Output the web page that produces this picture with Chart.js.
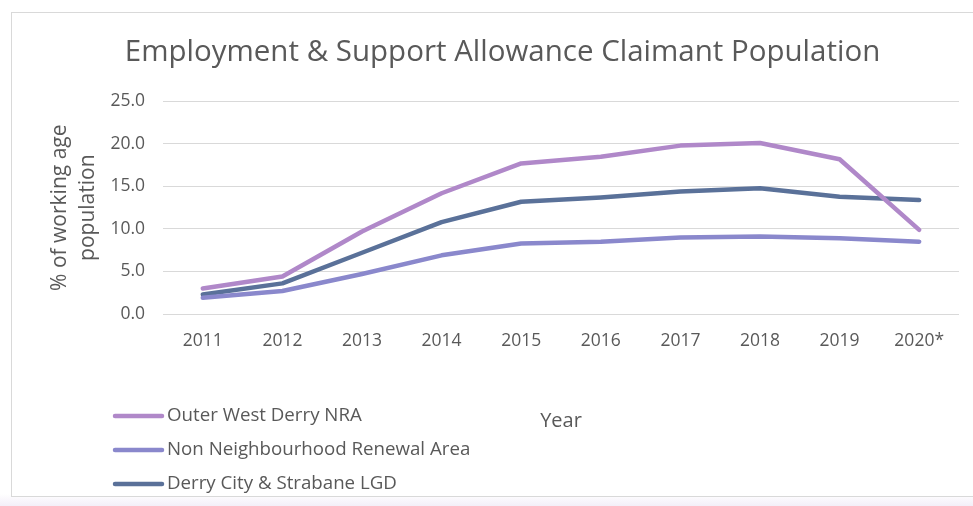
<!DOCTYPE html>
<html>
<head>
<meta charset="utf-8">
<script src="https://cdn.jsdelivr.net/npm/chart.js@4.4.1/dist/chart.umd.min.js"></script>
<style>
  html, body { margin: 0; padding: 0; background: #fff; }
  #wrap { position: relative; width: 973px; height: 506px; overflow: hidden;
    background: linear-gradient(to bottom, #fff 0, #fff 494px, #f3eef8 506px); }
  #frame { position: absolute; left: 11px; top: 12px; width: 990px; height: 483px;
    border: 1px solid #d9d9d9; background: #fff; }
  canvas { position: absolute; left: 0; top: 0; }
</style>
</head>
<body>
<div id="wrap">
  <div id="frame"></div>
  <canvas id="chart" width="973" height="506"></canvas>
</div>
<script>
// chart data
var years = ["2011", "2012", "2013", "2014", "2015", "2016", "2017", "2018", "2019", "2020*"];
var outerWestDerry = [3.0, 4.4, 9.7, 14.2, 17.7, 18.5, 19.8, 20.1, 18.2, 9.9];
var nonNRA = [1.9, 2.7, 4.7, 6.9, 8.3, 8.5, 9.0, 9.1, 8.9, 8.5];
var derryStrabane = [2.3, 3.6, 7.2, 10.8, 13.2, 13.7, 14.4, 14.8, 13.8, 13.4];
var yTicks = [0, 5, 10, 15, 20, 25];

var textColor = "#595959";
var fontName = "'Open Sans', sans-serif";

// Excel style legend: one entry per row, bottom left
var stackedLegend = {
  id: "stackedLegend",
  afterDraw: function (chart) {
    var ctx = chart.ctx;
    ctx.save();
    ctx.font = "18.7px " + fontName;
    ctx.fillStyle = textColor;
    ctx.textBaseline = "middle";
    chart.data.datasets.forEach(function (ds, i) {
      var y = 416 + i * 34;
      ctx.strokeStyle = ds.borderColor;
      ctx.lineWidth = 4.5;
      ctx.lineCap = "round";
      ctx.beginPath();
      ctx.moveTo(115, y);
      ctx.lineTo(162, y);
      ctx.stroke();
      ctx.fillText(ds.label, 167, y);
    });
    ctx.restore();
  }
};

var ctx = document.getElementById("chart").getContext("2d");
new Chart(ctx, {
  type: "line",
  data: {
    labels: years,
    datasets: [
      { label: "Outer West Derry NRA", data: outerWestDerry, borderColor: "#b088c9" },
      { label: "Non Neighbourhood Renewal Area", data: nonNRA, borderColor: "#8a88cc" },
      { label: "Derry City & Strabane LGD", data: derryStrabane, borderColor: "#5a7199" }
    ].map(function (d) {
      d.borderWidth = 4.5;
      d.pointRadius = 0;
      d.tension = 0;
      d.borderCapStyle = "round";
      d.borderJoinStyle = "round";
      d.fill = false;
      return d;
    })
  },
  options: {
    responsive: false,
    animation: false,
    layout: { padding: { left: 46, right: 14, top: 0, bottom: 73 } },
    plugins: {
      legend: { display: false },
      tooltip: { enabled: false },
      title: {
        display: true,
        text: "Employment & Support Allowance Claimant Population",
        color: textColor,
        font: { family: fontName, size: 29.5, weight: "normal" },
        padding: { top: 35, bottom: 31 }
      }
    },
    scales: {
      x: {
        offset: true,
        grid: { display: false, drawTicks: false },
        border: { display: false },
        ticks: { color: textColor, font: { family: fontName, size: 17.5 }, padding: 17, maxRotation: 0 },
        title: {
          display: true, text: "Year", color: textColor,
          font: { family: fontName, size: 20 }, padding: { top: 40, bottom: 0 }
        }
      },
      y: {
        min: 0,
        max: 25,
        afterBuildTicks: function (scale) {
          scale.ticks = yTicks.map(function (v) { return { value: v }; });
        },
        afterFit: function (scale) { scale.width = 117; },
        grid: { color: "#d9d9d9", lineWidth: 1, drawTicks: false },
        border: { display: false },
        ticks: {
          color: textColor, font: { family: fontName, size: 17.5 }, padding: 18,
          callback: function (v) { return Number(v).toFixed(1); }
        },
        title: {
          display: true, text: ["% of working age", "population"], color: textColor,
          font: { family: fontName, size: 21, lineHeight: 1.33 }, padding: { top: 0, bottom: 0 }
        }
      }
    }
  },
  plugins: [stackedLegend]
});
</script>
</body>
</html>
